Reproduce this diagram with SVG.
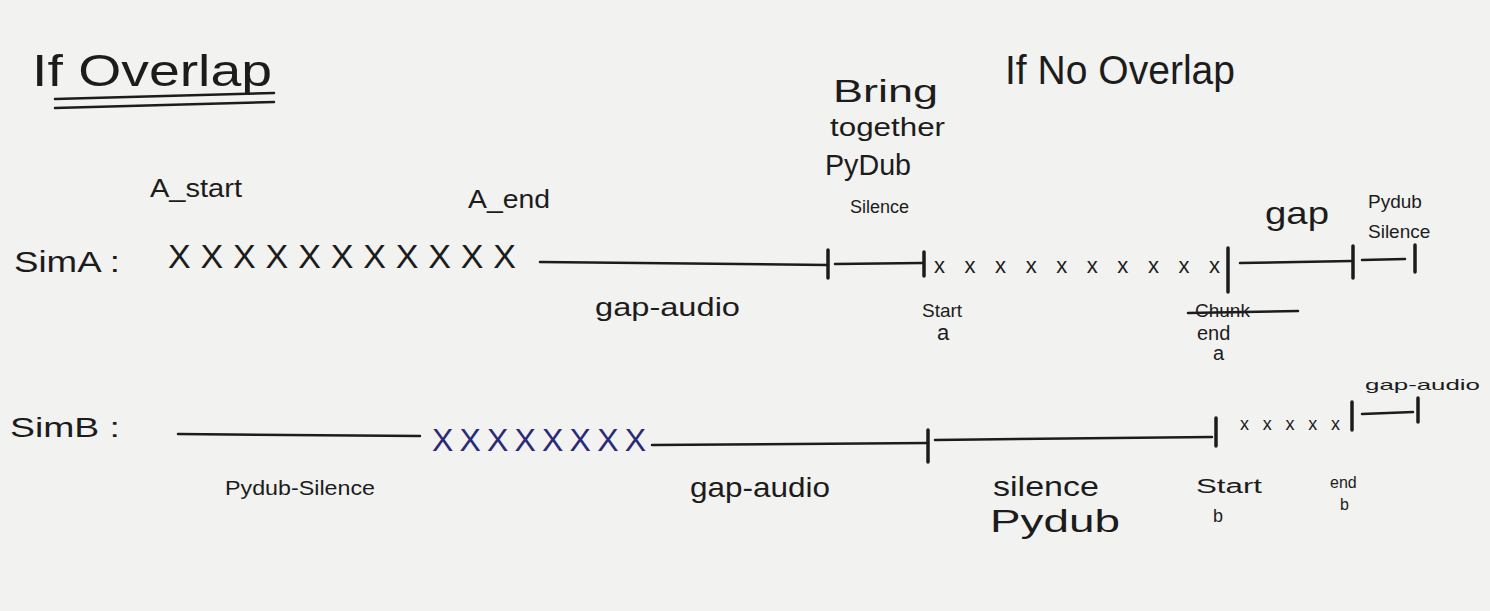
<svg xmlns="http://www.w3.org/2000/svg" width="1490" height="611" viewBox="0 0 1490 611">
<style>
.t{font-family:"Liberation Sans","DejaVu Sans",sans-serif;fill:#1c1c1c;}
.ln{stroke:#1c1c1c;stroke-width:2.5;fill:none;stroke-linecap:round;}
.tk{stroke:#1c1c1c;stroke-width:3.5;fill:none;stroke-linecap:round;}
.blue{fill:#2b2a78;}
</style>
<rect width="1490" height="611" fill="#f2f2f0"/>
<g id="title-overlap">
<text class="t" x="32" y="86" font-size="44" textLength="240" lengthAdjust="spacingAndGlyphs">If Overlap</text>
<path class="ln" d="M55 99 L274 93 M55 108 L274 102" stroke-width="3"/>
</g>
<g id="title-no-overlap">
<text class="t" x="1005" y="84" font-size="40" textLength="230" lengthAdjust="spacingAndGlyphs">If No Overlap</text>
</g>
<g id="note-bring">
<text class="t" x="833" y="102" font-size="32" textLength="105" lengthAdjust="spacingAndGlyphs">Bring</text>
<text class="t" x="830" y="136" font-size="26" textLength="115" lengthAdjust="spacingAndGlyphs">together</text>
<text class="t" x="825" y="175" font-size="30" textLength="86" lengthAdjust="spacingAndGlyphs">PyDub</text>
<text class="t" x="850" y="213" font-size="18">Silence</text>
</g>
<g id="simA">
<text class="t" x="14" y="272" font-size="30" textLength="106" lengthAdjust="spacingAndGlyphs">SimA :</text>
<text class="t" x="150" y="197" font-size="26" textLength="92" lengthAdjust="spacingAndGlyphs">A_start</text>
<text class="t" x="468" y="208" font-size="26" textLength="82" lengthAdjust="spacingAndGlyphs">A_end</text>
<text class="t" x="168" y="268" font-size="34" textLength="348" lengthAdjust="spacing">XXXXXXXXXXX</text>
<path class="ln" d="M540 262 L828 265 M835 264 L922 263"/>
<path class="tk" d="M828 250 L828 278 M924 252 L924 276"/>
<text class="t" x="934" y="273" font-size="22" textLength="286" lengthAdjust="spacing">xxxxxxxxxx</text>
<path class="tk" d="M1228 248 L1228 292"/>
<path class="ln" d="M1240 263 L1352 261 M1362 260 L1405 259"/>
<path class="tk" d="M1353 246 L1353 278 M1415 245 L1415 272"/>
<text class="t" x="595" y="316" font-size="26" textLength="145" lengthAdjust="spacingAndGlyphs">gap-audio</text>
<text class="t" x="922" y="317" font-size="19">Start</text>
<text class="t" x="937" y="340" font-size="22">a</text>
<text class="t" x="1195" y="317" font-size="19">Chunk</text>
<path class="ln" d="M1188 313 L1298 311" stroke-width="6"/>
<text class="t" x="1197" y="340" font-size="20">end</text>
<text class="t" x="1213" y="360" font-size="20">a</text>
<text class="t" x="1265" y="224" font-size="32" textLength="64" lengthAdjust="spacingAndGlyphs">gap</text>
<text class="t" x="1368" y="208" font-size="19">Pydub</text>
<text class="t" x="1368" y="238" font-size="19">Silence</text>
</g>
<g id="simB">
<text class="t" x="10" y="437" font-size="28" textLength="110" lengthAdjust="spacingAndGlyphs">SimB :</text>
<path class="ln" d="M178 434 L420 436"/>
<text class="t blue" x="432" y="451" font-size="32" textLength="214" lengthAdjust="spacing">XXXXXXXX</text>
<path class="ln" d="M652 445 L928 443 M935 440 L1212 437"/>
<path class="tk" d="M928 430 L928 462 M1216 418 L1216 446"/>
<text class="t" x="1240" y="430" font-size="18" textLength="100" lengthAdjust="spacing">xxxxx</text>
<path class="tk" d="M1352 402 L1352 430"/>
<path class="ln" d="M1362 414 L1413 412"/>
<path class="tk" d="M1418 398 L1418 422"/>
<text class="t" x="1365" y="390" font-size="15" textLength="115" lengthAdjust="spacingAndGlyphs">gap-audio</text>
<text class="t" x="225" y="495" font-size="21" textLength="150" lengthAdjust="spacingAndGlyphs">Pydub-Silence</text>
<text class="t" x="690" y="497" font-size="28" textLength="140" lengthAdjust="spacingAndGlyphs">gap-audio</text>
<text class="t" x="993" y="496" font-size="28" textLength="106" lengthAdjust="spacingAndGlyphs">silence</text>
<text class="t" x="990" y="532" font-size="32" textLength="130" lengthAdjust="spacingAndGlyphs">Pydub</text>
<text class="t" x="1196" y="493" font-size="20" textLength="66" lengthAdjust="spacingAndGlyphs">Start</text>
<text class="t" x="1213" y="522" font-size="18">b</text>
<text class="t" x="1330" y="488" font-size="16">end</text>
<text class="t" x="1340" y="510" font-size="16">b</text>
</g>
</svg>
